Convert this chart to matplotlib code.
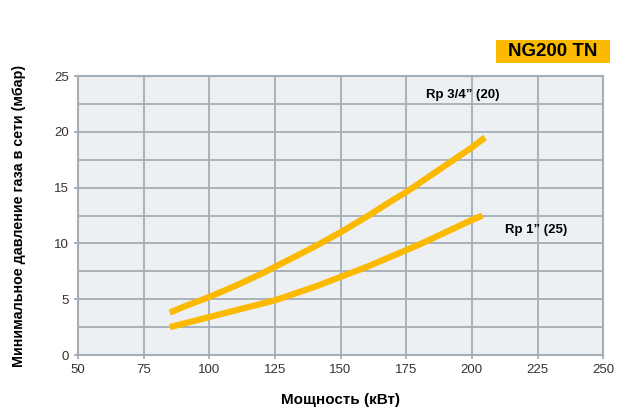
import matplotlib
matplotlib.use("Agg")
import matplotlib.pyplot as plt
from matplotlib.patches import Rectangle
import numpy as np

plt.rcParams['font.family'] = ['Liberation Sans', 'DejaVu Sans']

# kW vs minimal gas pressure (mbar)
kw_34 = [85, 90, 100, 110, 120, 125, 130, 140, 150, 160, 170, 175, 180, 190, 200, 205]
p_34 = [3.8, 4.3, 5.2, 6.2, 7.3, 7.9, 8.5, 9.7, 11.0, 12.4, 13.9, 14.6, 15.4, 17.0, 18.6, 19.5]
kw_1 = [85, 90, 100, 110, 120, 125, 130, 140, 150, 160, 170, 175, 180, 190, 200, 204]
p_1 = [2.5, 2.8, 3.4, 4.0, 4.6, 4.9, 5.3, 6.1, 7.0, 7.9, 8.9, 9.4, 9.9, 11.0, 12.1, 12.5]

xticks = [50, 75, 100, 125, 150, 175, 200, 225, 250]
yticks = [0, 5, 10, 15, 20, 25]

yellow = '#fbb900'
gridc = '#a4aeb6'

fig = plt.figure(figsize=(6.18, 4.09), dpi=100)
ax = fig.add_axes([0.126, 0.132, 0.850, 0.682])
ax.set_facecolor('#edf0f3')

ax.set_xlim(50, 250)
ax.set_ylim(0, 25)
ax.set_xticks(xticks)
ax.set_yticks(yticks)
ax.set_yticks(np.arange(0, 25.1, 2.5), minor=True)
ax.tick_params(axis='y', which='minor', length=0)
ax.grid(True, which='both', axis='y', color=gridc, lw=1.3)
ax.grid(True, which='major', axis='x', color=gridc, lw=1.3)
ax.set_axisbelow(True)
for s in ax.spines.values():
    s.set_color(gridc)
    s.set_linewidth(1.5)
ax.tick_params(which='major', length=3, color=gridc, width=1.3,
               labelsize=9.5, labelcolor='#333333')

ax.plot(kw_34, p_34, color=yellow, lw=4.5, solid_capstyle='butt')
ax.plot(kw_1, p_1, color=yellow, lw=4.5, solid_capstyle='butt')

ax.text(182.5, 23.3, 'Rp 3/4\u201d (20)', fontsize=9.5, fontweight='bold', va='center')
ax.text(212.5, 11.2, 'Rp 1\u201d (25)', fontsize=9.5, fontweight='bold', va='center')

ax.set_xlabel('Мощность (кВт)', fontsize=11, fontweight='bold', labelpad=12)
ax.set_ylabel('Минимальное давление газа в сети (мбар)', fontsize=10.3,
              fontweight='bold', labelpad=20)

fig.patches.append(Rectangle((0.8026, 0.846), 0.1845, 0.056, transform=fig.transFigure,
                             fc=yellow, ec='none'))
fig.text(0.895, 0.873, 'NG200 TN', fontsize=13.5, fontweight='bold',
         ha='center', va='center')

fig.savefig('out.png', dpi=100)
